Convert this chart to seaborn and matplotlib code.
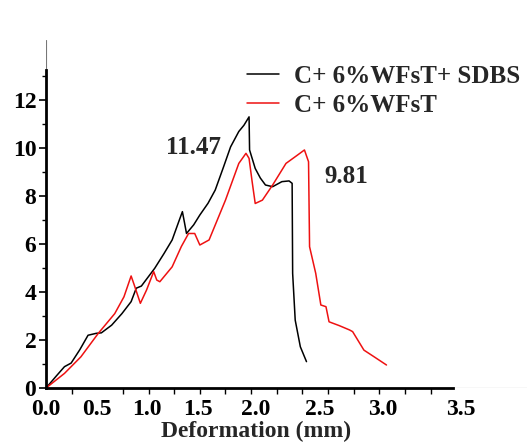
import numpy as np
import pandas as pd
import seaborn as sns
import matplotlib
matplotlib.use("Agg")
import matplotlib.pyplot as plt
from matplotlib.lines import Line2D

# values
black_x = [0.0, 0.10, 0.18, 0.245, 0.33, 0.41, 0.49, 0.54, 0.64, 0.74, 0.83, 0.88,
           0.93, 1.06, 1.15, 1.23, 1.30, 1.33, 1.35, 1.37, 1.44, 1.50, 1.58, 1.65,
           1.73, 1.80, 1.88, 1.93, 1.98, 1.985, 2.04, 2.09, 2.14, 2.21, 2.30, 2.37,
           2.40, 2.405, 2.43, 2.48, 2.54]
black_y = [0.0, 0.5, 0.89, 1.04, 1.6, 2.2, 2.28, 2.3, 2.62, 3.1, 3.6, 4.16,
           4.25, 4.99, 5.6, 6.17, 7.0, 7.35, 6.9, 6.44, 6.8, 7.21, 7.7, 8.25,
           9.2, 10.05, 10.69, 10.95, 11.3, 9.92, 9.15, 8.75, 8.46, 8.39, 8.6, 8.63,
           8.53, 4.78, 2.83, 1.72, 1.1]
red_x = [0.0, 0.18, 0.34, 0.51, 0.67, 0.76, 0.83, 0.86, 0.92, 0.98, 1.05, 1.08,
         1.11, 1.23, 1.32, 1.39, 1.45, 1.50, 1.59, 1.67, 1.75, 1.88, 1.95, 1.98,
         2.01, 2.04, 2.11, 2.21, 2.34, 2.45, 2.52, 2.56, 2.57, 2.63, 2.68, 2.73,
         2.76, 2.86, 2.96, 2.99, 3.10, 3.20, 3.32]
red_y = [0.0, 0.61, 1.3, 2.28, 3.1, 3.8, 4.67, 4.3, 3.53, 4.08, 4.85, 4.5,
         4.43, 5.05, 5.9, 6.44, 6.44, 5.96, 6.17, 7.0, 7.83, 9.36, 9.78, 9.57,
         8.6, 7.69, 7.83, 8.46, 9.36, 9.7, 9.92, 9.43, 5.89, 4.78, 3.46, 3.39,
         2.76, 2.6, 2.42, 2.35, 1.58, 1.3, 0.96]

series_names = ["C+ 6%WFsT+ SDBS", "C+ 6%WFsT"]
series_colors = ["black", "#ee1111"]
peak_labels = ["11.47", "9.81"]
xtick_labels = ["0.0", "0.5", "1.0", "1.5", "2.0", "2.5", "3.0", "3.5"]
ytick_labels = ["0", "2", "4", "6", "8", "10", "12"]
xlabel = "Deformation (mm)"

df = pd.concat([
    pd.DataFrame({"x": black_x, "y": black_y, "series": series_names[0]}),
    pd.DataFrame({"x": red_x, "y": red_y, "series": series_names[1]}),
], ignore_index=True)

sns.set_style("ticks")
plt.rcParams["font.family"] = ["Liberation Serif", "DejaVu Serif"]
plt.rcParams["font.weight"] = "bold"

fig = plt.figure(figsize=(5.3, 4.45), dpi=100)
ax = fig.add_axes([0.0868, 0.128, 0.9075, 0.782])

sns.lineplot(data=df, x="x", y="y", hue="series", palette=series_colors,
             sort=False, estimator=None, linewidth=1.1, legend=False, ax=ax)

ax.set_xlim(0, 4.69)
ax.set_ylim(0, 14.5)

# axis lines: thick part plus thin continuation
for s in ["top", "right"]:
    ax.spines[s].set_visible(False)
ax.spines["left"].set_bounds(0, 13.25)
ax.spines["bottom"].set_bounds(0, 3.97)
for s in ["left", "bottom"]:
    ax.spines[s].set_linewidth(2.0)
    ax.spines[s].set_color("black")
ax.axvline(0, ymin=13.25 / 14.5, ymax=1, color="#777777", lw=0.8)
ax.axhline(0, xmin=3.97 / 4.69, xmax=1, color="#777777", lw=0.8)

# y ticks
ax.set_yticks([int(v) for v in ytick_labels])
ax.set_yticklabels(ytick_labels)
ax.set_yticks(np.arange(0, 14, 1), minor=True)
ax.tick_params(axis="y", which="major", length=5, width=1.2, pad=2,
               labelsize=17, colors="black")
ax.tick_params(axis="y", which="minor", length=3, width=1.0, color="black")

# x ticks: marks every 0.25, labels placed as in the picture
xlabel_pos = [0.0, 0.50, 0.98, 1.48, 2.04, 2.67, 3.28, 4.04]
ax.set_xticks(xlabel_pos)
ax.set_xticklabels(xtick_labels)
ax.set_xticks(np.arange(0, 3.76, 0.25), minor=True)
ax.tick_params(axis="x", which="major", length=0, pad=8, labelsize=17,
               colors="black")
ax.tick_params(axis="x", which="minor", length=4, width=1.0, color="black")
for lab in ax.get_xticklabels() + ax.get_yticklabels():
    lab.set_fontweight("bold")

ax.set_xlabel(xlabel, fontsize=17, fontweight="bold")
ax.xaxis.set_label_coords((257 - 46) / 482, -0.095)
ax.set_ylabel("")

# peak values
ax.text(1.44, 10.04, peak_labels[0], fontsize=18, fontweight="bold",
        ha="center", va="center")
ax.text(2.93, 8.83, peak_labels[1], fontsize=18, fontweight="bold",
        ha="center", va="center")

handles = [Line2D([], [], color=c, lw=1.1) for c in series_colors]
ax.legend(handles, series_names, loc="upper left",
          bbox_to_anchor=(0.466, 0.855), bbox_transform=fig.transFigure,
          frameon=False, borderpad=0, borderaxespad=0, handlelength=1.3,
          handletextpad=0.6, labelspacing=0.25,
          prop={"size": 18, "weight": "bold"})

fig.savefig("out.png", dpi=100)
